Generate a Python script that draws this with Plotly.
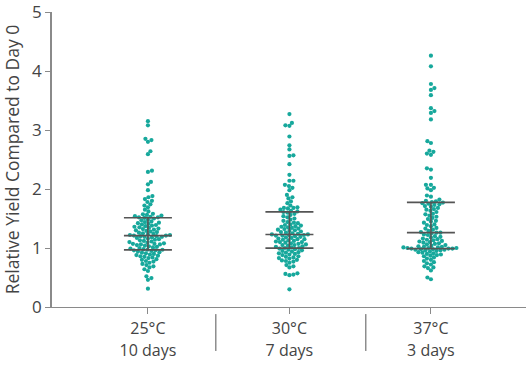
import numpy as np
import plotly.graph_objects as go

temperatures = ["25°C", "30°C", "37°C"]
durations = ["10 days", "7 days", "3 days"]

yield_25C = [
    0.31, 0.46, 0.49, 0.52, 0.61, 0.64, 0.67, 0.69, 0.71, 0.73, 0.75, 0.77, 0.78, 0.80, 0.81,
    0.83, 0.84, 0.85, 0.86, 0.87, 0.88, 0.89, 0.90, 0.91, 0.92, 0.93, 0.94, 0.95, 0.96, 0.96,
    0.97, 0.97, 0.98, 0.99, 1.00, 1.01, 1.02, 1.03, 1.04, 1.05, 1.06, 1.06, 1.07, 1.07, 1.08,
    1.09, 1.10, 1.11, 1.12, 1.13, 1.14, 1.15, 1.16, 1.17, 1.18, 1.19, 1.19, 1.20, 1.20, 1.21,
    1.21, 1.22, 1.22, 1.23, 1.24, 1.25, 1.26, 1.27, 1.28, 1.29, 1.30, 1.31, 1.32, 1.33, 1.34,
    1.35, 1.36, 1.37, 1.38, 1.39, 1.40, 1.41, 1.42, 1.43, 1.44, 1.45, 1.47, 1.48, 1.50, 1.51,
    1.52, 1.52, 1.53, 1.54, 1.55, 1.56, 1.57, 1.58, 1.62, 1.65, 1.69, 1.72, 1.74, 1.78, 1.80,
    1.83, 1.86, 1.88, 1.98, 2.08, 2.12, 2.29, 2.31, 2.59, 2.64, 2.80, 2.83, 2.85, 3.08, 3.15,
]

yield_30C = [
    0.30, 0.54, 0.55, 0.56, 0.57, 0.67, 0.69, 0.71, 0.75, 0.77, 0.78, 0.79, 0.80, 0.82, 0.83,
    0.84, 0.85, 0.86, 0.88, 0.89, 0.90, 0.91, 0.92, 0.93, 0.94, 0.95, 0.96, 0.97, 0.98, 0.99,
    1.00, 1.00, 1.01, 1.02, 1.03, 1.04, 1.05, 1.05, 1.06, 1.07, 1.08, 1.09, 1.10, 1.10, 1.11,
    1.12, 1.13, 1.14, 1.15, 1.15, 1.16, 1.17, 1.18, 1.19, 1.20, 1.21, 1.21, 1.22, 1.22, 1.23,
    1.23, 1.24, 1.25, 1.26, 1.27, 1.28, 1.29, 1.30, 1.31, 1.32, 1.33, 1.34, 1.35, 1.36, 1.37,
    1.38, 1.39, 1.40, 1.42, 1.43, 1.44, 1.46, 1.48, 1.50, 1.52, 1.54, 1.56, 1.58, 1.60, 1.61,
    1.62, 1.63, 1.65, 1.67, 1.68, 1.68, 1.69, 1.72, 1.76, 1.79, 1.84, 1.86, 1.90, 1.98, 2.02,
    2.05, 2.07, 2.14, 2.14, 2.24, 2.42, 2.56, 2.57, 2.67, 2.74, 2.89, 3.07, 3.08, 3.12, 3.27,
]

yield_37C = [
    0.47, 0.50, 0.62, 0.66, 0.67, 0.69, 0.72, 0.74, 0.76, 0.78, 0.80, 0.82, 0.84, 0.86, 0.87,
    0.88, 0.89, 0.90, 0.91, 0.92, 0.93, 0.94, 0.95, 0.96, 0.96, 0.97, 0.97, 0.98, 0.98, 0.99,
    0.99, 0.99, 1.00, 1.00, 1.00, 1.01, 1.01, 1.02, 1.02, 1.03, 1.04, 1.05, 1.06, 1.07, 1.08,
    1.09, 1.10, 1.11, 1.12, 1.13, 1.14, 1.15, 1.16, 1.18, 1.19, 1.20, 1.22, 1.23, 1.25, 1.26,
    1.26, 1.27, 1.29, 1.31, 1.33, 1.34, 1.37, 1.39, 1.40, 1.43, 1.45, 1.46, 1.49, 1.51, 1.53,
    1.55, 1.57, 1.58, 1.61, 1.63, 1.65, 1.66, 1.68, 1.70, 1.71, 1.73, 1.74, 1.75, 1.76, 1.77,
    1.78, 1.79, 1.80, 1.82, 1.87, 1.89, 1.98, 2.01, 2.02, 2.07, 2.07, 2.19, 2.33, 2.35, 2.58,
    2.60, 2.63, 2.65, 2.78, 2.81, 3.18, 3.29, 3.32, 3.37, 3.59, 3.68, 3.71, 3.78, 4.08, 4.26,
]

groups = [yield_25C, yield_30C, yield_37C]
y_ticks = [0, 1, 2, 3, 4, 5]

POINT_COLOR = "#17A89C"
BAR_COLOR = "#555555"
TEXT_COLOR = "#444444"
AXIS_COLOR = "#8a8a8a"
FONT = "Open Sans, DejaVu Sans, sans-serif"

W, H = 526, 375
M_L, M_R, M_T, M_B = 52, 0, 12, 68
X_RANGE = [-0.678, 2.672]
Y_RANGE = [0, 5]
px_per_x = (W - M_L - M_R) / (X_RANGE[1] - X_RANGE[0])
px_per_y = (H - M_T - M_B) / (Y_RANGE[1] - Y_RANGE[0])


def swarm_offsets(vals, diam=3.8, step=0.5):
    vals = np.asarray(vals, dtype=float)
    order = np.argsort(vals, kind="stable")
    placed = []
    offs = np.zeros(len(vals))
    for n, i in enumerate(order):
        yp = vals[i] * px_per_y
        near = [(a, b) for a, b in placed if abs(b - yp) < diam]
        chosen = 0.0
        sign_first = 1 if n % 2 == 0 else -1
        for k in range(0, 400):
            cands = [0.0] if k == 0 else [sign_first * k * step, -sign_first * k * step]
            found = None
            for s in cands:
                if all((s - a) ** 2 + (yp - b) ** 2 >= diam ** 2 for a, b in near):
                    found = s
                    break
            if found is not None:
                chosen = found
                break
        placed.append((chosen, yp))
        offs[i] = chosen / px_per_x
    return offs


fig = go.Figure()

for gi, vals in enumerate(groups):
    offs = swarm_offsets(vals)
    fig.add_trace(go.Scatter(
        x=gi + offs, y=vals, mode="markers",
        marker=dict(size=4.2, color=POINT_COLOR, line=dict(width=0)),
        showlegend=False, hoverinfo="y",
    ))

half = 24 / px_per_x
bx, by = [], []
for gi, vals in enumerate(groups):
    q1, med, q3 = np.percentile(vals, [25, 50, 75])
    for q in (q1, med, q3):
        bx += [gi - half, gi + half, None]
        by += [q, q, None]
    bx += [gi, gi, None]
    by += [q1, q3, None]
fig.add_trace(go.Scatter(x=bx, y=by, mode="lines",
                         line=dict(color=BAR_COLOR, width=1.6),
                         showlegend=False, hoverinfo="skip"))

# category separators below the x axis
for sx in (0.48, 1.54):
    fig.add_shape(type="line", xref="x", yref="paper", x0=sx, x1=sx,
                  y0=-0.024, y1=-0.149, line=dict(color=BAR_COLOR, width=1))

# two-line category labels
span = "<span style='font-size:16px'>{}</span>"
tick_text = [span.format(t) + "<br>" + span.format(d) for t, d in zip(temperatures, durations)]

fig.update_layout(
    width=W, height=H,
    margin=dict(l=M_L, r=M_R, t=M_T, b=M_B),
    paper_bgcolor="white", plot_bgcolor="white",
    font=dict(family=FONT, color=TEXT_COLOR, size=16),
    xaxis=dict(range=X_RANGE, tickvals=[0, 1, 2], ticktext=tick_text,
               automargin=False,
               showgrid=False, zeroline=False, showline=True, linecolor=AXIS_COLOR,
               linewidth=1.2, ticks="outside", ticklen=6, tickcolor=AXIS_COLOR,
               tickfont=dict(size=16.8, color=TEXT_COLOR)),
    yaxis=dict(range=Y_RANGE, tickvals=y_ticks, showgrid=False, zeroline=False,
               automargin=False, ticklabeloverflow="allow",
               showline=True, linecolor=AXIS_COLOR, linewidth=1.6,
               ticks="outside", ticklen=5, tickcolor=AXIS_COLOR,
               tickfont=dict(size=17, color=TEXT_COLOR),
               title=dict(text="Relative Yield Compared to Day 0",
                          font=dict(size=17.5, color=TEXT_COLOR), standoff=16)),
)

fig.write_html("out.html", config={"displayModeBar": False},
               post_script="document.body.style.margin='0';")
